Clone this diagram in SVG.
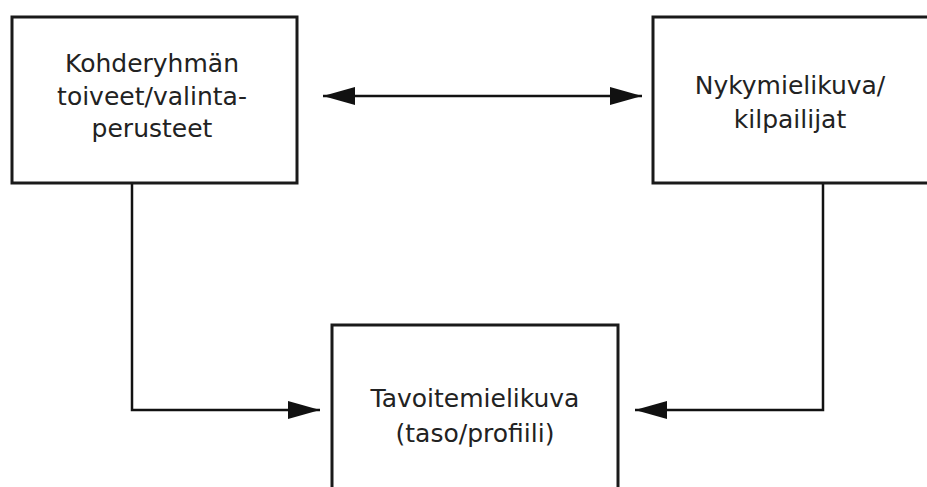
<svg xmlns="http://www.w3.org/2000/svg" width="927" height="487" viewBox="0 0 927 487">
<style>
.box{fill:#fff;stroke:#1a1a1a;stroke-width:3}
.lbl{font-family:"DejaVu Sans",Verdana,sans-serif;font-size:25px;fill:#222;text-anchor:middle}
.con{fill:none;stroke:#111;stroke-width:2.5}
</style>
<defs>
<marker id="ah" viewBox="0 0 32 18" refX="32" refY="9" markerWidth="32" markerHeight="18" markerUnits="userSpaceOnUse" orient="auto-start-reverse">
<path d="M0,0 L32,9 L0,18 Z" fill="#111"/>
</marker>
</defs>
<rect width="927" height="487" fill="#fff"/>
<g id="connectors">
<line class="con" x1="323" y1="96" x2="642" y2="96" marker-start="url(#ah)" marker-end="url(#ah)"/>
<polyline class="con" points="132,183 132,410 320,410" marker-end="url(#ah)"/>
<polyline class="con" points="823,183 823,410 635,410" marker-end="url(#ah)"/>
</g>
<g id="node-kohderyhma">
<rect class="box" x="12" y="17" width="285" height="166"/>
<text class="lbl" x="152" y="72">Kohderyhmän</text>
<text class="lbl" x="152" y="105">toiveet/valinta-</text>
<text class="lbl" x="152" y="137">perusteet</text>
</g>
<g id="node-nykymielikuva">
<rect class="box" x="653" y="17" width="290" height="166"/>
<text class="lbl" x="790" y="94">Nykymielikuva/</text>
<text class="lbl" x="790" y="128">kilpailijat</text>
</g>
<g id="node-tavoitemielikuva">
<rect class="box" x="332" y="325" width="286" height="180"/>
<text class="lbl" x="475" y="407">Tavoitemielikuva</text>
<text class="lbl" x="475" y="442">(taso/profiili)</text>
</g>
</svg>
